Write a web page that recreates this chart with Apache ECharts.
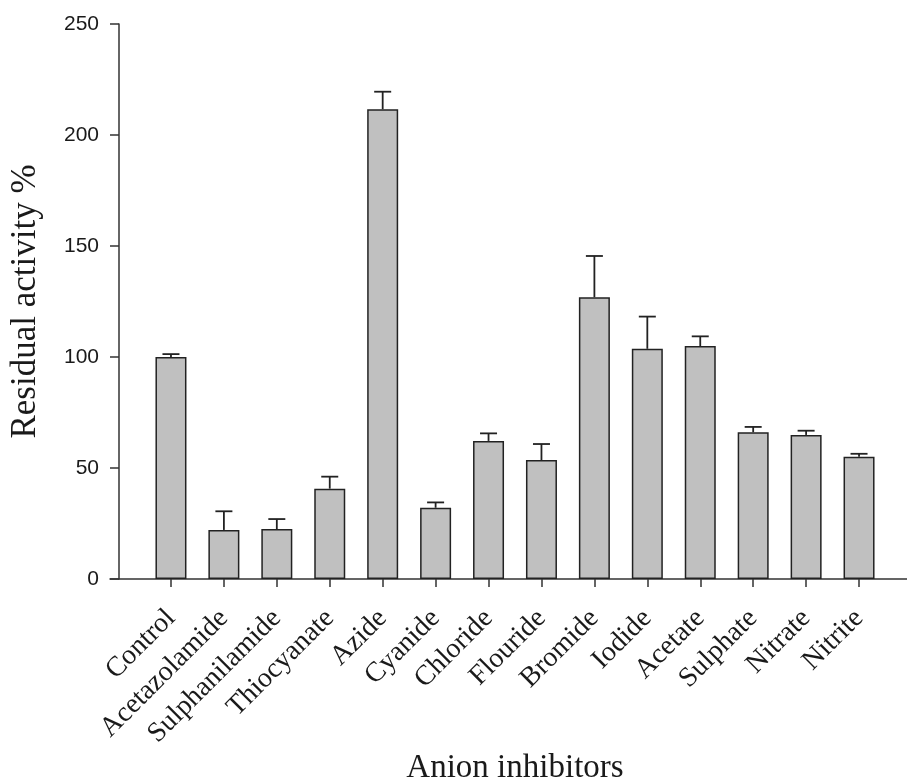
<!DOCTYPE html>
<html>
<head>
<meta charset="utf-8">
<script src="https://cdn.jsdelivr.net/npm/echarts@6/dist/echarts.min.js"></script>
<style>html,body{margin:0;padding:0;background:#fff;}#c{width:907px;height:778px;}</style>
</head>
<body>
<div id="c"></div>
<script>
var categories = ['Control','Acetazolamide','Sulphanilamide','Thiocyanate','Azide','Cyanide','Chloride','Flouride','Bromide','Iodide','Acetate','Sulphate','Nitrate','Nitrite'];
var means = [100, 22.1, 22.5, 40.7, 211.6, 32.1, 62.2, 53.6, 126.9, 103.7, 104.9, 66.1, 64.9, 55.1];
var errors = [1.3, 8.4, 4.5, 5.4, 7.9, 2.4, 3.4, 7.2, 18.6, 14.5, 4.4, 2.4, 1.9, 1.3];
var yTicks = [0, 50, 100, 150, 200, 250];

var errData = means.map(function (m, i) { return [i, m, m + errors[i]]; });
var chart = echarts.init(document.getElementById('c'));
chart.setOption({
  animation: false,
  backgroundColor: '#fff',
  grid: [
    { left: 144.5, right: 21.5, top: 24, bottom: 199, containLabel: false, outerBoundsMode: 'none' },
    { left: 110, right: 0, top: 24, bottom: 199, containLabel: false, outerBoundsMode: 'none' }
  ],
  xAxis: [{
    type: 'category', gridIndex: 0, data: categories,
    axisLine: { show: false },
    axisTick: { show: true, alignWithLabel: true, length: 8, lineStyle: { color: '#333', width: 1.5 } },
    axisLabel: { rotate: 45, interval: 0, margin: 35, fontFamily: 'Liberation Serif', fontSize: 28, color: '#1a1a1a' },
    name: 'Anion inhibitors', nameLocation: 'middle', nameGap: 173, nameMoveOverlap: false,
    nameTextStyle: { fontFamily: 'Liberation Serif', fontSize: 33, color: '#1a1a1a' }
  }, {
    type: 'value', gridIndex: 1, min: 0, max: 1,
    axisLine: { show: true, onZero: false, lineStyle: { color: '#333', width: 1.5 } },
    axisTick: { show: false }, axisLabel: { show: false }, splitLine: { show: false }
  }],
  yAxis: [{
    type: 'value', gridIndex: 0, min: 0, max: 250, interval: 50, offset: 25.5,
    axisLine: { show: true, lineStyle: { color: '#333', width: 1.5 } },
    axisTick: { show: true, length: 9, lineStyle: { color: '#333', width: 1.5 } },
    axisLabel: { margin: 20, fontFamily: 'Liberation Sans', fontSize: 21, color: '#1a1a1a',
      formatter: function (v) { return yTicks.indexOf(v) >= 0 ? String(v) : ''; } },
    splitLine: { show: false },
    name: 'Residual activity %', nameLocation: 'middle', nameGap: 76, nameMoveOverlap: false,
    nameTextStyle: { fontFamily: 'Liberation Serif', fontSize: 35, color: '#1a1a1a' }
  }, {
    type: 'value', gridIndex: 1, min: 0, max: 1, show: false
  }],
  series: [{
    type: 'bar', xAxisIndex: 0, yAxisIndex: 0, data: means, barWidth: 31,
    itemStyle: { color: '#c0c0c0', borderColor: '#222', borderWidth: 1.5 }
  }, {
    type: 'custom', xAxisIndex: 0, yAxisIndex: 0, data: errData, z: 1,
    renderItem: function (params, api) {
      var x = api.value(0);
      var p0 = api.coord([x, api.value(1)]);
      var p1 = api.coord([x, api.value(2)]);
      var hw = 8.5;
      var st = { stroke: '#222', lineWidth: 1.8 };
      return { type: 'group', children: [
        { type: 'line', shape: { x1: p0[0], y1: p0[1], x2: p1[0], y2: p1[1] }, style: st },
        { type: 'line', shape: { x1: p1[0] - hw, y1: p1[1], x2: p1[0] + hw, y2: p1[1] }, style: st }
      ] };
    }
  }]
});
</script>
</body>
</html>
